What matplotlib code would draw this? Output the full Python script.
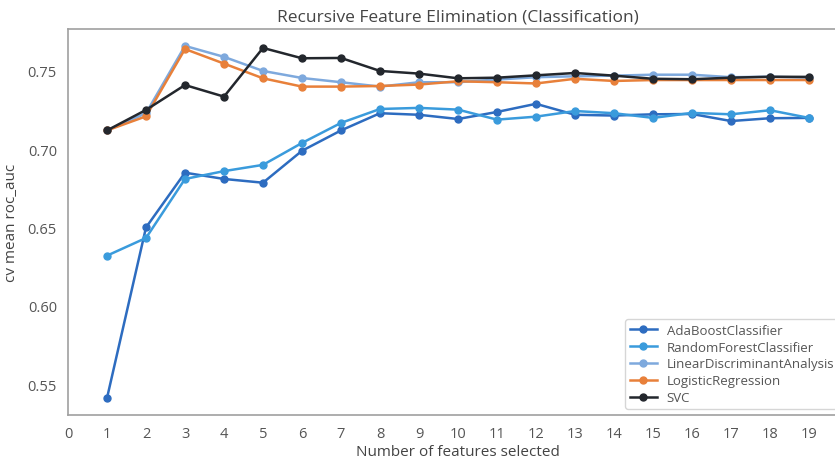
import matplotlib
matplotlib.use("Agg")
import matplotlib.pyplot as plt

plt.rcParams['font.family'] = ['Open Sans', 'DejaVu Sans']

features = list(range(1, 20))
ada = [0.541, 0.650, 0.685, 0.681, 0.6786, 0.699, 0.712, 0.723, 0.722, 0.7193,
       0.7238, 0.729, 0.722, 0.7215, 0.7223, 0.7225, 0.718, 0.7198, 0.720]
rf = [0.632, 0.6433, 0.681, 0.686, 0.690, 0.704, 0.7168, 0.7257, 0.7264, 0.7253,
      0.7189, 0.7208, 0.7244, 0.723, 0.720, 0.7232, 0.7223, 0.7249, 0.720]
lda = [0.712, 0.723, 0.766, 0.759, 0.750, 0.7455, 0.7428, 0.740, 0.7428, 0.7428,
       0.7445, 0.746, 0.7466, 0.747, 0.7476, 0.7476, 0.746, 0.7463, 0.7457]
logreg = [0.712, 0.721, 0.764, 0.7547, 0.7453, 0.740, 0.740, 0.7404, 0.7413, 0.7434,
          0.7428, 0.742, 0.745, 0.7436, 0.7442, 0.7442, 0.7442, 0.7442, 0.7442]
svc = [0.712, 0.7251, 0.741, 0.7336, 0.7647, 0.7581, 0.7583, 0.750, 0.7483, 0.7453,
       0.7457, 0.7472, 0.7487, 0.747, 0.745, 0.7447, 0.7457, 0.7463, 0.7462]

names = ["AdaBoostClassifier", "RandomForestClassifier", "LinearDiscriminantAnalysis",
         "LogisticRegression", "SVC"]
colors = ["#2d6cc0", "#3a9bdc", "#7ea9dd", "#e8803a", "#23272d"]
series = [ada, rf, lda, logreg, svc]

fig = plt.figure(figsize=(8.35, 4.6), dpi=100)
ax = fig.add_axes([68/835, 44/460, 780/835, 386/460])

for name, col, vals in zip(names, colors, series):
    ax.plot(features, vals, marker='o', color=col, lw=1.8, ms=5, label=name)

ax.set_xlim(0, 20)
ax.set_ylim(0.5302, 0.7768)
ax.set_xticks(range(0, 20))
ax.set_yticks([0.55, 0.60, 0.65, 0.70, 0.75])
ax.set_yticklabels(["0.55", "0.60", "0.65", "0.70", "0.75"])
ax.tick_params(length=0, labelsize=10.5, labelcolor="#555555", pad=8)
for s in ax.spines.values():
    s.set_color("#a0a0a0")
    s.set_linewidth(1.2)
ax.spines['right'].set_visible(False)

ax.set_title("Recursive Feature Elimination (Classification)", fontsize=12.5,
             color="#444444", pad=6)
ax.set_xlabel("Number of features selected", fontsize=11, color="#444444", labelpad=2)
ax.set_ylabel("cv mean roc_auc", fontsize=11, color="#444444", labelpad=6)

leg = ax.legend(loc='lower left', bbox_to_anchor=(625/835, 50/460),
                bbox_transform=fig.transFigure, fontsize=9.5, frameon=True,
                borderaxespad=0.0, borderpad=0.35, handlelength=2.1,
                handletextpad=0.7, labelspacing=0.3)
leg.get_frame().set_edgecolor("#cccccc")
for t in leg.get_texts():
    t.set_color("#555555")

fig.savefig("out.png", dpi=100)
